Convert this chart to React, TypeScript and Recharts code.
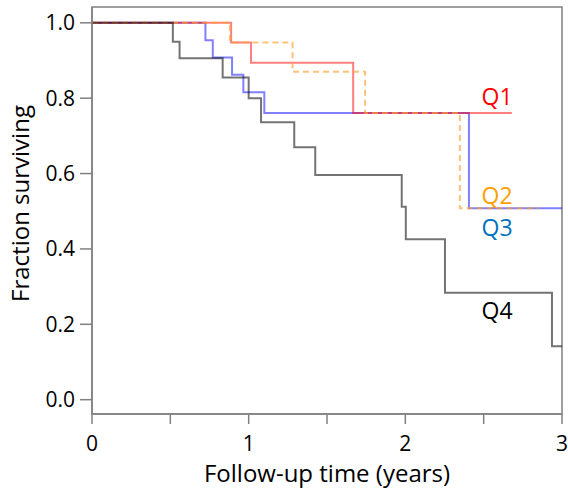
import React from "react";
import {
  LineChart,
  Line,
  XAxis,
  YAxis,
  ReferenceArea,
  ReferenceDot,
  Label,
} from "recharts";

// step points: time (years) where the curve drops, and the new survival fraction
const q1Times = [0, 0.888, 1.015, 1.667, 2.68];
const q1Surv = [1.0, 0.948, 0.894, 0.761, 0.761];

const q2Times = [0, 0.88, 1.28, 1.743, 2.348, 2.85];
const q2Surv = [1.0, 0.948, 0.87, 0.761, 0.508, 0.508];

const q3Times = [0, 0.724, 0.771, 0.894, 0.966, 1.1, 2.406, 3.0];
const q3Surv = [1.0, 0.954, 0.908, 0.862, 0.816, 0.761, 0.508, 0.508];

const q4Times = [0, 0.516, 0.559, 0.834, 1.0, 1.079, 1.291, 1.425, 1.977, 2.003, 2.253, 2.936, 3.0];
const q4Surv = [1.0, 0.95, 0.906, 0.855, 0.8, 0.736, 0.67, 0.596, 0.512, 0.426, 0.284, 0.142, 0.142];

const xTicks = [0, 0.5, 1, 1.5, 2, 2.5, 3];
const yTicks = [0, 0.2, 0.4, 0.6, 0.8, 1.0];

const groupNames = ["Q1", "Q2", "Q3", "Q4"];
const groupLabelX = [2.586, 2.586, 2.586, 2.586];
const groupLabelY = [0.803, 0.54, 0.456, 0.235];
const groupTextColors = ["#ff0000", "#ffa000", "#0070c0", "#000000"];

const FONT = "'Open Sans', sans-serif";
const AXIS = "#808080";

const toPoints = (times: number[], surv: number[]) =>
  times.map((t, i) => ({ t, s: surv[i] }));

const q1 = toPoints(q1Times, q1Surv);
const q2 = toPoints(q2Times, q2Surv);
const q3 = toPoints(q3Times, q3Surv);
const q4 = toPoints(q4Times, q4Surv);

const YTitle = ({ viewBox }: any) => {
  const cy = viewBox.y + viewBox.height / 2 - 7;
  return (
    <text
      x={19}
      y={cy}
      transform={`rotate(-90 19 ${cy})`}
      textAnchor="middle"
      dominantBaseline="central"
      fontFamily={FONT}
      fontSize={24}
      fill="#000"
    >
      Fraction surviving
    </text>
  );
};

export default function App() {
  return (
    <div style={{ position: "absolute", left: 0, top: 0, background: "#fff" }}>
      <LineChart
        width={568}
        height={491}
        margin={{ top: 7, right: 6, bottom: 0, left: 0 }}
      >
        <XAxis
          type="number"
          dataKey="t"
          domain={[0, 3]}
          ticks={xTicks}
          allowDataOverflow
          height={77}
          stroke={AXIS}
          strokeWidth={1.5}
          tickSize={10}
          tickMargin={12}
          tickFormatter={(v: number) => (Number.isInteger(v) ? String(v) : "")}
          tick={{ fill: "#000", fontSize: 21, fontFamily: FONT }}
        >
          <Label
            value="Follow-up time (years)"
            position="insideBottom"
            offset={9}
            style={{ fontSize: 24, fontFamily: FONT, fill: "#000" }}
          />
        </XAxis>
        <YAxis
          type="number"
          domain={[-0.038, 1.042]}
          ticks={yTicks}
          allowDataOverflow
          width={92}
          stroke={AXIS}
          strokeWidth={1.5}
          tickSize={12}
          tickMargin={5}
          tickFormatter={(v: number) => v.toFixed(1)}
          tick={{ fill: "#000", fontSize: 21, fontFamily: FONT }}
        >
          <Label content={<YTitle />} />
        </YAxis>
        <ReferenceArea
          x1={0}
          x2={3}
          y1={-0.038}
          y2={1.042}
          fill="none"
          stroke={AXIS}
          strokeWidth={1.5}
          ifOverflow="visible"
        />
        <Line
          data={q3}
          dataKey="s"
          type="stepAfter"
          stroke="#0000ff"
          strokeOpacity={0.5}
          strokeWidth={2}
          dot={false}
          isAnimationActive={false}
        />
        <Line
          data={q1}
          dataKey="s"
          type="stepAfter"
          stroke="#ff0000"
          strokeOpacity={0.5}
          strokeWidth={2}
          dot={false}
          isAnimationActive={false}
        />
        <Line
          data={q2}
          dataKey="s"
          type="stepAfter"
          stroke="#ffa030"
          strokeOpacity={0.65}
          strokeWidth={2}
          strokeDasharray="6 4"
          dot={false}
          isAnimationActive={false}
        />
        <Line
          data={q4}
          dataKey="s"
          type="stepAfter"
          stroke="#000000"
          strokeOpacity={0.55}
          strokeWidth={2}
          dot={false}
          isAnimationActive={false}
        />
        {groupNames.map((name, i) => (
          <ReferenceDot
            key={name}
            x={groupLabelX[i]}
            y={groupLabelY[i]}
            r={0}
            fill="none"
            stroke="none"
            ifOverflow="visible"
            label={{
              value: name,
              position: "center",
              fill: groupTextColors[i],
              fontSize: 23,
              fontFamily: FONT,
            }}
          />
        ))}
      </LineChart>
    </div>
  );
}
